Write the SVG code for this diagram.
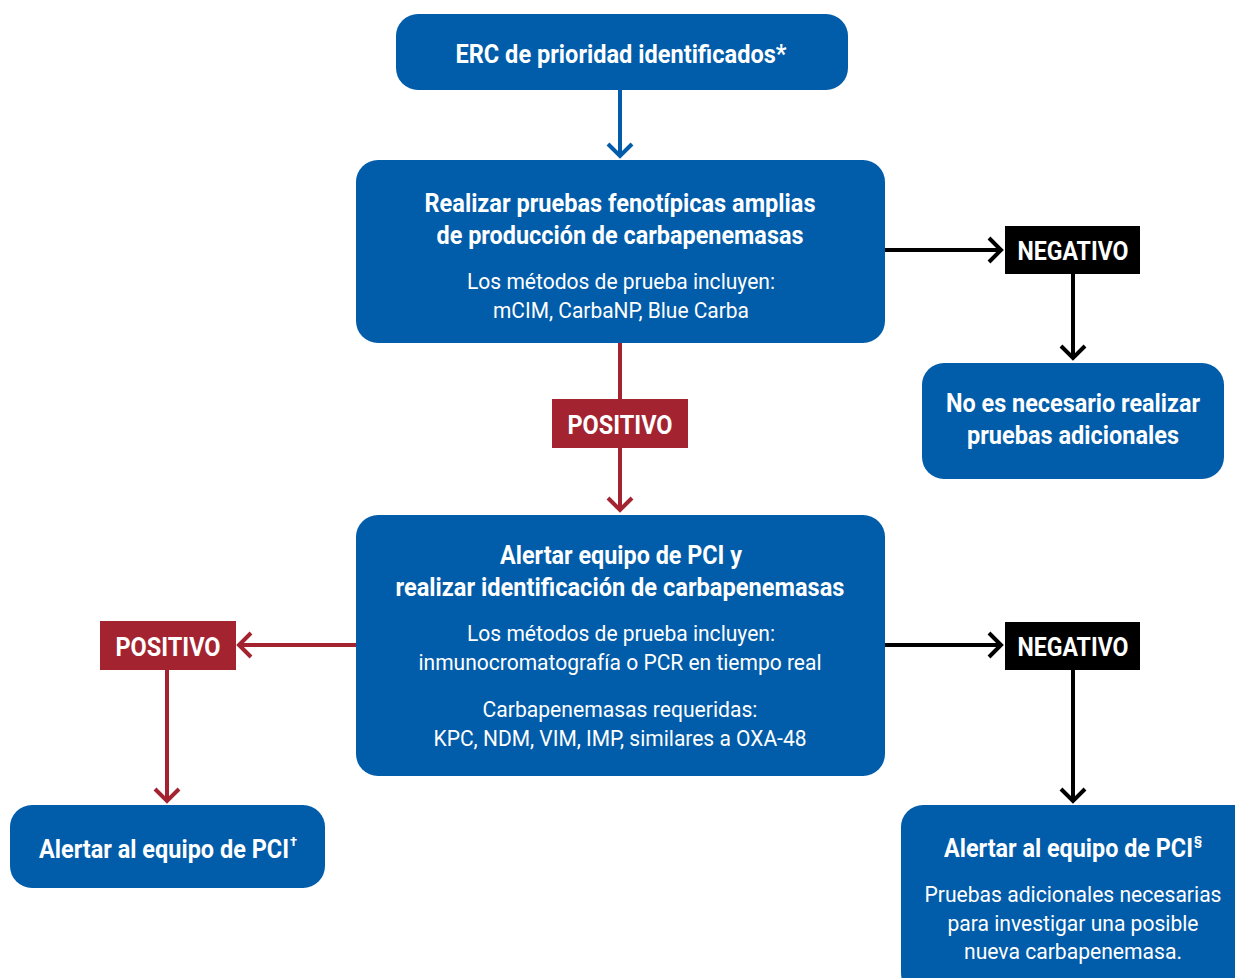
<svg xmlns="http://www.w3.org/2000/svg" width="1235" height="978" viewBox="0 0 1235 978">
<defs>
<style>
.box{fill:#015ca9}
.t{font-family:Roboto,"Liberation Sans",sans-serif;fill:#fff;text-anchor:middle}
.b{font-weight:bold;font-size:25px}
.r{font-size:22px}
.lbl{font-family:Roboto,"Liberation Sans",sans-serif;font-weight:bold;font-size:25px;fill:#fff;text-anchor:middle}
.ln{fill:none;stroke-width:4}
.blue{stroke:#015ca9}
.red{stroke:#a42330}
.blk{stroke:#000}
.sup{font-size:13px}
</style>
</defs>
<rect width="1235" height="978" fill="#fff"/>
<g id="connectors">
<path class="ln blue" d="M620 90V156"/>
<path class="ln blue" d="M608 144L620 156L632 144"/>
<path class="ln blk" d="M885 250H1001"/>
<path class="ln blk" d="M989 238L1001 250L989 262"/>
<path class="ln blk" d="M1073 274V358"/>
<path class="ln blk" d="M1061 346L1073 358L1085 346"/>
<path class="ln red" d="M620 343V400"/>
<path class="ln red" d="M620 448V510"/>
<path class="ln red" d="M608 498L620 510L632 498"/>
<path class="ln red" d="M356 645H239"/>
<path class="ln red" d="M251 633L239 645L251 657"/>
<path class="ln red" d="M167 670V801"/>
<path class="ln red" d="M155 789L167 801L179 789"/>
<path class="ln blk" d="M885 645H1001"/>
<path class="ln blk" d="M989 633L1001 645L989 657"/>
<path class="ln blk" d="M1073 670V801"/>
<path class="ln blk" d="M1061 789L1073 801L1085 789"/>
</g>
<g id="n1">
<rect class="box" x="396" y="14" width="452" height="76" rx="22"/>
<text class="t b" x="621" y="63" textLength="331" lengthAdjust="spacingAndGlyphs">ERC de prioridad identificados*</text>
</g>
<g id="n2">
<rect class="box" x="356" y="160" width="529" height="183" rx="22"/>
<text class="t b" x="620" y="212" textLength="391" lengthAdjust="spacingAndGlyphs">Realizar pruebas fenotípicas amplias</text>
<text class="t b" x="620" y="244" textLength="367" lengthAdjust="spacingAndGlyphs">de producción de carbapenemasas</text>
<text class="t r" x="621" y="289" textLength="308" lengthAdjust="spacingAndGlyphs">Los métodos de prueba incluyen:</text>
<text class="t r" x="621" y="318" textLength="256" lengthAdjust="spacingAndGlyphs">mCIM, CarbaNP, Blue Carba</text>
</g>
<g id="neg1">
<rect x="1005" y="226" width="135" height="48" fill="#000"/>
<text class="lbl" x="1073" y="260" textLength="111" lengthAdjust="spacingAndGlyphs">NEGATIVO</text>
</g>
<g id="n3">
<rect class="box" x="922" y="363" width="302" height="116" rx="22"/>
<text class="t b" x="1073" y="412" textLength="254" lengthAdjust="spacingAndGlyphs">No es necesario realizar</text>
<text class="t b" x="1073" y="444" textLength="212" lengthAdjust="spacingAndGlyphs">pruebas adicionales</text>
</g>
<g id="pos1">
<rect x="552" y="399" width="136" height="49" fill="#a42330"/>
<text class="lbl" x="620" y="434" textLength="105" lengthAdjust="spacingAndGlyphs">POSITIVO</text>
</g>
<g id="n4">
<rect class="box" x="356" y="515" width="529" height="261" rx="22"/>
<text class="t b" x="621" y="564" textLength="242" lengthAdjust="spacingAndGlyphs">Alertar equipo de PCI y</text>
<text class="t b" x="620" y="596" textLength="449" lengthAdjust="spacingAndGlyphs">realizar identificación de carbapenemasas</text>
<text class="t r" x="621" y="641" textLength="308" lengthAdjust="spacingAndGlyphs">Los métodos de prueba incluyen:</text>
<text class="t r" x="620" y="670" textLength="403" lengthAdjust="spacingAndGlyphs">inmunocromatografía o PCR en tiempo real</text>
<text class="t r" x="620" y="717" textLength="275" lengthAdjust="spacingAndGlyphs">Carbapenemasas requeridas:</text>
<text class="t r" x="620" y="746" textLength="373" lengthAdjust="spacingAndGlyphs">KPC, NDM, VIM, IMP, similares a OXA-48</text>
</g>
<g id="pos2">
<rect x="100" y="621" width="136" height="49" fill="#a42330"/>
<text class="lbl" x="168" y="656" textLength="105" lengthAdjust="spacingAndGlyphs">POSITIVO</text>
</g>
<g id="neg2">
<rect x="1005" y="622" width="135" height="48" fill="#000"/>
<text class="lbl" x="1073" y="656" textLength="111" lengthAdjust="spacingAndGlyphs">NEGATIVO</text>
</g>
<g id="n5">
<rect class="box" x="10" y="805" width="315" height="83" rx="22"/>
<text class="t b" x="39" y="858" style="text-anchor:start"><tspan textLength="250" lengthAdjust="spacingAndGlyphs">Alertar al equipo de PCI</tspan><tspan class="sup" dx="1" dy="-12">†</tspan></text>
</g>
<g id="n6">
<rect class="box" x="901" y="805" width="360" height="190" rx="22"/>
<text class="t b" x="944" y="857" style="text-anchor:start"><tspan textLength="249" lengthAdjust="spacingAndGlyphs">Alertar al equipo de PCI</tspan><tspan class="sup" dx="1" dy="-12">§</tspan></text>
<text class="t r" x="1073" y="902" textLength="297" lengthAdjust="spacingAndGlyphs">Pruebas adicionales necesarias</text>
<text class="t r" x="1073" y="931" textLength="251" lengthAdjust="spacingAndGlyphs">para investigar una posible</text>
<text class="t r" x="1073" y="959" textLength="218" lengthAdjust="spacingAndGlyphs">nueva carbapenemasa.</text>
</g>
</svg>
